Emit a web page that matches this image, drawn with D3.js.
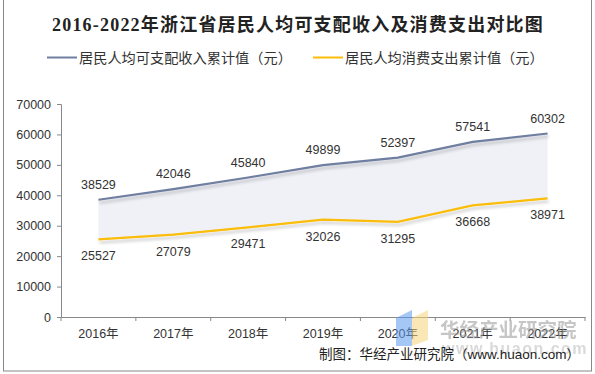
<!DOCTYPE html>
<html>
<head>
<meta charset="utf-8">
<script src="https://cdn.jsdelivr.net/npm/d3@7"></script>
<style>
  body { margin: 0; background: #fff; }
  svg text { font-family: "Liberation Sans", Arial, "Noto Sans CJK SC", sans-serif; }
</style>
</head>
<body>
<div id="chart"></div>
<script>
var years = ['2016年', '2017年', '2018年', '2019年', '2020年', '2021年', '2022年'],
    income = [38529, 42046, 45840, 49899, 52397, 57541, 60302],
    spend = [25527, 27079, 29471, 32026, 31295, 36668, 38971],
    yTicks = [0, 10000, 20000, 30000, 40000, 50000, 60000, 70000],
    seriesNames = ['居民人均可支配收入累计值（元）', '居民人均消费支出累计值（元）']

var W = 595, H = 374,
    margins = {top: 104, right: 10, bottom: 57, left: 61},
    colors = {income: '#6f7fa0', spend: '#fbbd08', fill: '#eff1f6', text: '#333'}

var svg = d3.select('#chart').append('svg')
    .attr('width', W)
    .attr('height', H)

// shadow under lines
var defs = svg.append('defs')
defs.append('filter')
    .attr('id', 'shadow')
    .attr('x', '-10%').attr('y', '-50%').attr('width', '120%').attr('height', '200%')
  .append('feDropShadow')
    .attr('dx', 1).attr('dy', 3).attr('stdDeviation', 1.8)
    .attr('flood-color', '#000').attr('flood-opacity', 0.2)

// outer frame
svg.append('rect')
    .attr('x', 3.5).attr('y', -2).attr('width', 588).attr('height', 373)
    .attr('fill', 'none').attr('stroke', '#888').attr('stroke-width', 1)

svg.append('text')
    .attr('x', 298).attr('y', 31)
    .attr('text-anchor', 'middle')
    .style('font-family', '"Liberation Serif", "Noto Sans CJK SC", serif')
    .style('font-weight', 'bold')
    .style('font-size', '18px')
    .style('letter-spacing', '1.2px')
    .attr('fill', '#222')
    .text('2016-2022年浙江省居民人均可支配收入及消费支出对比图')

// legend
var legend = svg.append('g')
var legendX = [47, 313]
;[colors.income, colors.spend].forEach(function(c, i) {
    legend.append('line')
        .attr('x1', legendX[i]).attr('x2', legendX[i] + 30)
        .attr('y1', 57.5).attr('y2', 57.5)
        .attr('stroke', c).attr('stroke-width', 2)
    legend.append('text')
        .attr('x', legendX[i] + 32).attr('y', 62.5)
        .style('font-size', '14.2px')
        .attr('fill', colors.text)
        .text(seriesNames[i])
})

var x = d3.scaleBand()
    .domain(years)
    .range([margins.left, 585])

var y = d3.scaleLinear()
    .domain([0, 70000])
    .range([H - margins.bottom, margins.top])

var yAxis = svg.append('g')
    .attr('transform', 'translate(' + margins.left + ',0)')
    .call(d3.axisLeft(y).tickValues(yTicks).tickSize(4).tickPadding(6).tickFormat(d3.format('d')))
yAxis.selectAll('path, line').attr('stroke', '#888')
yAxis.selectAll('text').style('font-size', '12.5px').attr('fill', colors.text)

var xAxis = svg.append('g')
    .attr('transform', 'translate(0,' + (H - margins.bottom) + ')')
    .call(d3.axisBottom(x).tickSize(0).tickPadding(12))
xAxis.select('path').attr('stroke', '#888')
xAxis.selectAll('text').style('font-size', '12.5px').attr('fill', colors.text)
// ticks at category boundaries
xAxis.selectAll('.bound')
    .data(years.concat(['end']))
    .enter().append('line')
    .attr('x1', function(d, i) { return margins.left + i * x.step() })
    .attr('x2', function(d, i) { return margins.left + i * x.step() })
    .attr('y1', 0).attr('y2', 4)
    .attr('stroke', '#888')

var cx = function(d, i) { return x(years[i]) + x.bandwidth() / 2 }

// band between the two series
var band = d3.area()
    .x(cx)
    .y0(function(d, i) { return y(spend[i]) })
    .y1(function(d, i) { return y(income[i]) })
svg.append('path')
    .datum(years)
    .attr('d', band)
    .attr('fill', colors.fill)

var line = d3.line()
    .x(cx)
    .y(function(d) { return y(d) })

svg.append('path')
    .datum(income)
    .attr('d', line)
    .attr('fill', 'none')
    .attr('stroke', colors.income)
    .attr('stroke-width', 2.2)
    .attr('filter', 'url(#shadow)')

svg.append('path')
    .datum(spend)
    .attr('d', line)
    .attr('fill', 'none')
    .attr('stroke', colors.spend)
    .attr('stroke-width', 2.2)
    .attr('filter', 'url(#shadow)')

// data labels
svg.selectAll('.lab-income')
    .data(income)
    .enter().append('text')
    .attr('x', cx)
    .attr('y', function(d) { return y(d) - 11 })
    .attr('text-anchor', 'middle')
    .style('font-size', '12.5px')
    .attr('fill', colors.text)
    .text(function(d) { return d })

svg.selectAll('.lab-spend')
    .data(spend)
    .enter().append('text')
    .attr('x', cx)
    .attr('y', function(d) { return y(d) + 21 })
    .attr('text-anchor', 'middle')
    .style('font-size', '12.5px')
    .attr('fill', colors.text)
    .text(function(d) { return d })

// watermark
var wm = svg.append('g').attr('opacity', 0.55)
wm.append('path')
    .attr('d', 'M396,318 L412,310 L412,346 L396,346 Z')
    .attr('fill', '#5b9bf0')
wm.append('path')
    .attr('d', 'M412,318 L428,310 L428,340 L412,346 Z')
    .attr('fill', '#f5d77a')
wm.append('text')
    .attr('x', 440).attr('y', 337)
    .style('font-family', '"Noto Sans CJK SC", sans-serif')
    .style('font-weight', 'bold')
    .style('font-size', '19.5px')
    .attr('fill', '#999')
    .text('华经产业研究院')
wm.append('text')
    .attr('x', 442).attr('y', 354)
    .style('font-weight', 'bold')
    .style('font-size', '16px')
    .style('letter-spacing', '1.5px')
    .attr('fill', '#bbb')
    .text('www.huaon.com')

svg.append('text')
    .attr('x', 580).attr('y', 359)
    .attr('text-anchor', 'end')
    .style('font-size', '13.5px')
    .attr('fill', '#222')
    .text('制图：华经产业研究院（www.huaon.com）')
</script>
</body>
</html>
